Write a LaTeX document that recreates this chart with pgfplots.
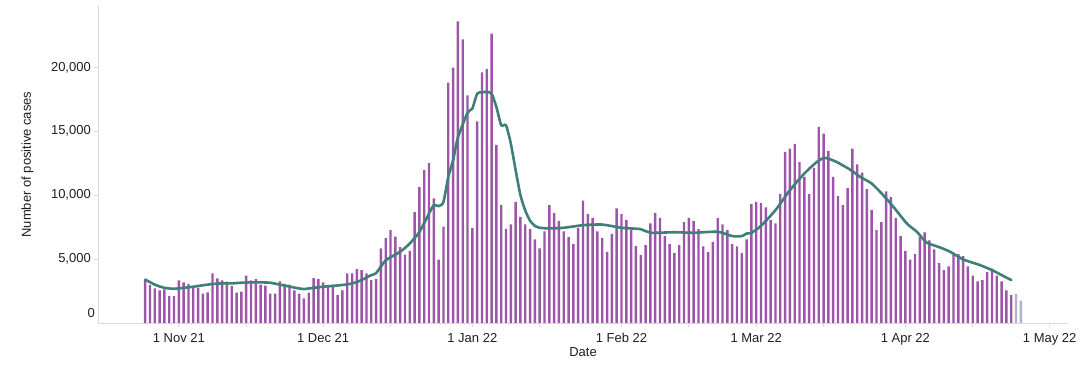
\documentclass[border=0pt]{standalone}
\usepackage{fontspec}
\setmainfont{Liberation Sans}
\usepackage{pgfplots}
\pgfplotsset{compat=1.18}
\usepackage{pgfplotstable}

\definecolor{barpurple}{HTML}{9C55A8}
\definecolor{bargrey}{HTML}{B2B0C6}
\definecolor{linegreen}{HTML}{3F7F7A}
\definecolor{axisgrey}{HTML}{D9D9D9}

% day index: 0 = 1 Nov 2021
\pgfplotstableread{
d v
-7 3350
-6 2970
-5 2710
-4 2550
-3 2630
-2 2110
-1 2110
0 3330
1 3180
2 3070
3 2760
4 2760
5 2290
6 2400
7 3880
8 3490
9 3330
10 3230
11 2890
12 2370
13 2450
14 3700
15 3330
16 3440
17 3000
18 2920
19 2290
20 2290
21 3260
22 3070
23 3000
24 2550
25 2290
26 1930
27 2370
28 3520
29 3440
30 3180
31 2920
32 3000
33 2190
34 2550
35 3880
36 3880
37 4220
38 4140
39 3880
40 3360
41 3440
42 5830
43 6640
44 7270
45 6750
46 5940
47 5340
48 5650
49 8670
50 10630
51 11950
52 12500
53 9740
54 4950
55 7530
56 18800
57 19970
58 23590
59 22190
60 17810
61 7420
62 15780
63 19610
64 19870
65 22630
66 13930
67 9220
68 7370
69 7710
70 9480
71 8310
72 7710
73 7340
74 6540
75 5830
76 7160
77 9220
78 8590
79 7970
80 7160
81 6720
82 6170
83 7420
84 9580
85 8520
86 8230
87 7160
88 6640
89 5570
90 6980
91 8960
92 8520
93 8070
94 7270
95 6020
96 5310
97 6090
98 7790
99 8590
100 8230
101 6800
102 6170
103 5470
104 6090
105 7890
106 8230
107 7970
108 7340
109 5990
110 5570
111 6350
112 8230
113 7710
114 7270
115 6170
116 5990
117 5470
118 6540
119 9300
120 9480
121 9380
122 9040
123 8050
124 7790
125 10080
126 13390
127 13650
128 14010
129 12580
130 11430
131 10080
132 12140
133 15340
134 14820
135 13460
136 11430
137 9920
138 9220
139 10550
140 13650
141 12400
142 11770
143 10470
144 8850
145 7270
146 7890
147 10290
148 9840
149 8230
150 6820
151 5650
152 4950
153 5390
154 6720
155 7080
156 6460
157 5760
158 4690
159 4140
160 4430
161 5500
162 5390
163 5230
164 4430
165 3700
166 3260
167 3360
168 3980
169 4250
170 3700
171 3260
172 2550
173 2190
}\bars

\pgfplotstableread{
d v
174 2270
175 1750
}\greybars

\pgfplotstableread{
d v
-7 3400
-5 3000
-3 2750
-1 2680
1 2750
3 2840
5 2950
7 3050
9 3100
11 3100
13 3150
15 3177
17 3177
19 3150
21 3000
23 2850
25 2700
26 2656
28 2750
30 2840
32 2900
35 3020
37 3200
38 3360
40 3750
41 3900
43 4900
46 5570
48 6220
50 7130
52 8570
53 9220
54 9140
55 9480
56 11430
57 12730
58 14500
60 16450
61 16770
62 17943
63 18050
64 18073
65 17943
66 16900
67 15469
68 15469
69 14036
70 11953
71 10000
72 8800
73 8000
74 7600
75 7450
77 7400
80 7450
84 7650
88 7700
92 7450
96 7340
98 7060
103 7100
107 7060
112 7135
115 6800
117 6800
118 7000
119 7050
121 7600
124 8830
127 10390
130 11690
132.6 12600
134.3 12916
136.7 12600
139.5 12000
141.6 11430
144 10910
146.4 10000
148.5 9090
151.3 7790
153.4 7135
155.4 6300
158.2 5911
160.3 5573
163 4974
166.5 4531
169 4140
171 3750
173 3359
}\avgline

\begin{document}
\begin{tikzpicture}
\path[use as bounding box] (0pt,0pt) rectangle (1080pt,366pt);
\begin{axis}[
  at={(98pt,43pt)}, anchor=south west,
  scale only axis, width=970pt, height=317pt,
  xmin=-16.8, xmax=184.8, ymin=0, ymax=24800,
  axis x line*=bottom, axis y line*=left,
  axis line style={draw=axisgrey, line width=0.8pt, -},
  xtick={0,30,61,92,120,151,181},
  xticklabels={1 Nov 21, 1 Dec 21, 1 Jan 22, 1 Feb 22, 1 Mar 22, 1 Apr 22, 1 May 22},
  minor xtick={14,44,75,106,134,165},
  ytick={5000,10000,15000,20000},
  extra y ticks={0},
  extra y tick style={yticklabel style={yshift=10pt}, major tick length=0pt},
  scaled y ticks=false,
  tick align=outside,
  major tick length=4pt, minor tick length=4pt,
  tick style={draw=axisgrey, line width=0.8pt},
  tick label style={font=\fontsize{13}{15}\selectfont, text=black!88},
  yticklabel style={/pgf/number format/1000 sep={,}, /pgf/number format/assume math mode=true, anchor=east, inner sep=0pt, xshift=-3pt},
  xticklabel style={anchor=base, inner sep=0pt, yshift=-15.5pt},
  xlabel={Date}, ylabel={Number of positive cases},
  label style={font=\fontsize{13}{15}\selectfont, text=black!88},
  xlabel style={at={(axis description cs:0.5,-0.0915)}, anchor=center},
  ylabel style={at={(axis description cs:-0.0727,0.5)}, anchor=center},
  clip=false,
]
\addplot[ybar, bar width=0.5, fill=barpurple, draw=none] table[x=d,y=v]{\bars};
\addplot[ybar, bar width=0.5, fill=bargrey, draw=none] table[x=d,y=v]{\greybars};
\addplot[linegreen, line width=2.6pt, line join=round, line cap=round, smooth, tension=0.4] table[x=d,y=v]{\avgline};
\end{axis}
\end{tikzpicture}
\end{document}
